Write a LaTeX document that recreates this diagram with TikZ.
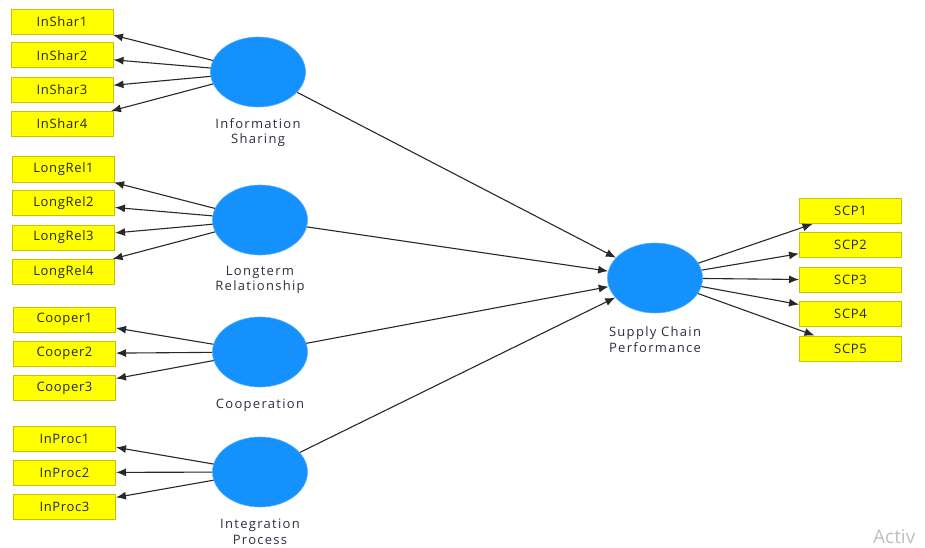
\documentclass[tikz,border=0pt]{standalone}
\usepackage{fontspec}
\setmainfont{Open Sans}
\newfontfamily\boxfont[LetterSpace=5]{Open Sans}
\newfontfamily\labfont[LetterSpace=10]{Open Sans}
\usetikzlibrary{arrows.meta,shapes.geometric}
\definecolor{boxfill}{RGB}{255,255,0}
\definecolor{boxline}{RGB}{200,195,0}
\definecolor{latfill}{RGB}{20,145,252}
\definecolor{lattext}{RGB}{45,45,65}
\definecolor{arrowc}{RGB}{40,40,40}
\tikzset{
  ind/.style={draw=boxline, fill=boxfill, line width=1pt, minimum width=102pt, minimum height=25pt, inner sep=0pt, font=\boxfont\fontsize{13}{15}\selectfont, text=black!85},
  lat/.style={ellipse, fill=latfill, draw=latfill!70!white, line width=0.6pt, minimum width=95pt, minimum height=70pt, inner sep=0pt},
  latlab/.style={align=center, font=\labfont\fontsize{13}{15.5}\selectfont, text=lattext},
  arr/.style={draw=arrowc, line width=1.1pt, -{Latex[length=10pt,width=8pt]}}
}
\begin{document}
\begin{tikzpicture}[x=1pt,y=-1pt]
\useasboundingbox (0,0) rectangle (925,548);
% latent variables
\node[lat] (IS) at (258,72) {};
\node[lat] (LR) at (260,220) {};
\node[lat] (CO) at (260,352) {};
\node[lat] (IP) at (260,472) {};
\node[lat] (SC) at (655,278) {};
\node[latlab] (ISl) at (258,132.5) {Information\\Sharing};
\node[latlab] (LRl) at (260,280) {Longterm\\Relationship};
\node[latlab] (COl) at (260,405) {Cooperation};
\node[latlab] (IPl) at (260,532) {Integration\\Process};
\node[latlab] (SCl) at (655,339.5) {Supply Chain\\Performance};
% indicators
\node[ind] (is1) at (62,22) {InShar1};
\node[ind] (is2) at (62,55.5) {InShar2};
\node[ind] (is3) at (62,90) {InShar3};
\node[ind] (is4) at (62,124) {InShar4};
\node[ind] (lr1) at (63.5,169.5) {LongRel1};
\node[ind] (lr2) at (63.5,203) {LongRel2};
\node[ind] (lr3) at (63.5,237.5) {LongRel3};
\node[ind] (lr4) at (63.5,272) {LongRel4};
\node[ind] (co1) at (64.5,319.5) {Cooper1};
\node[ind] (co2) at (64.5,353.5) {Cooper2};
\node[ind] (co3) at (64.5,388) {Cooper3};
\node[ind] (ip1) at (64.5,438.5) {InProc1};
\node[ind] (ip2) at (64.5,472.5) {InProc2};
\node[ind] (ip3) at (64.5,506.5) {InProc3};
\node[ind] (sc1) at (850.5,211) {SCP1};
\node[ind] (sc2) at (850.5,245) {SCP2};
\node[ind] (sc3) at (850.5,280) {SCP3};
\node[ind] (sc4) at (850.5,314) {SCP4};
\node[ind] (sc5) at (850.5,348.5) {SCP5};
% outer loadings
\foreach \i in {is1,is2,is3,is4} \draw[arr] (IS) -- (\i);
\foreach \i in {lr1,lr2,lr3,lr4} \draw[arr] (LR) -- (\i);
\foreach \i in {co1,co2,co3} \draw[arr] (CO) -- (\i);
\foreach \i in {ip1,ip2,ip3} \draw[arr] (IP) -- (\i);
\foreach \i in {sc1,sc2,sc3,sc4,sc5} \draw[arr] (SC) -- (\i);
% structural paths
\foreach \i in {IS,LR,CO,IP} \draw[arr] (\i) -- (SC);
% watermark
\node[anchor=west, text=black!25, font=\fontsize{19}{22}\selectfont, inner sep=0pt] (wm) at (873,537) {Activ};
\end{tikzpicture}
\end{document}
